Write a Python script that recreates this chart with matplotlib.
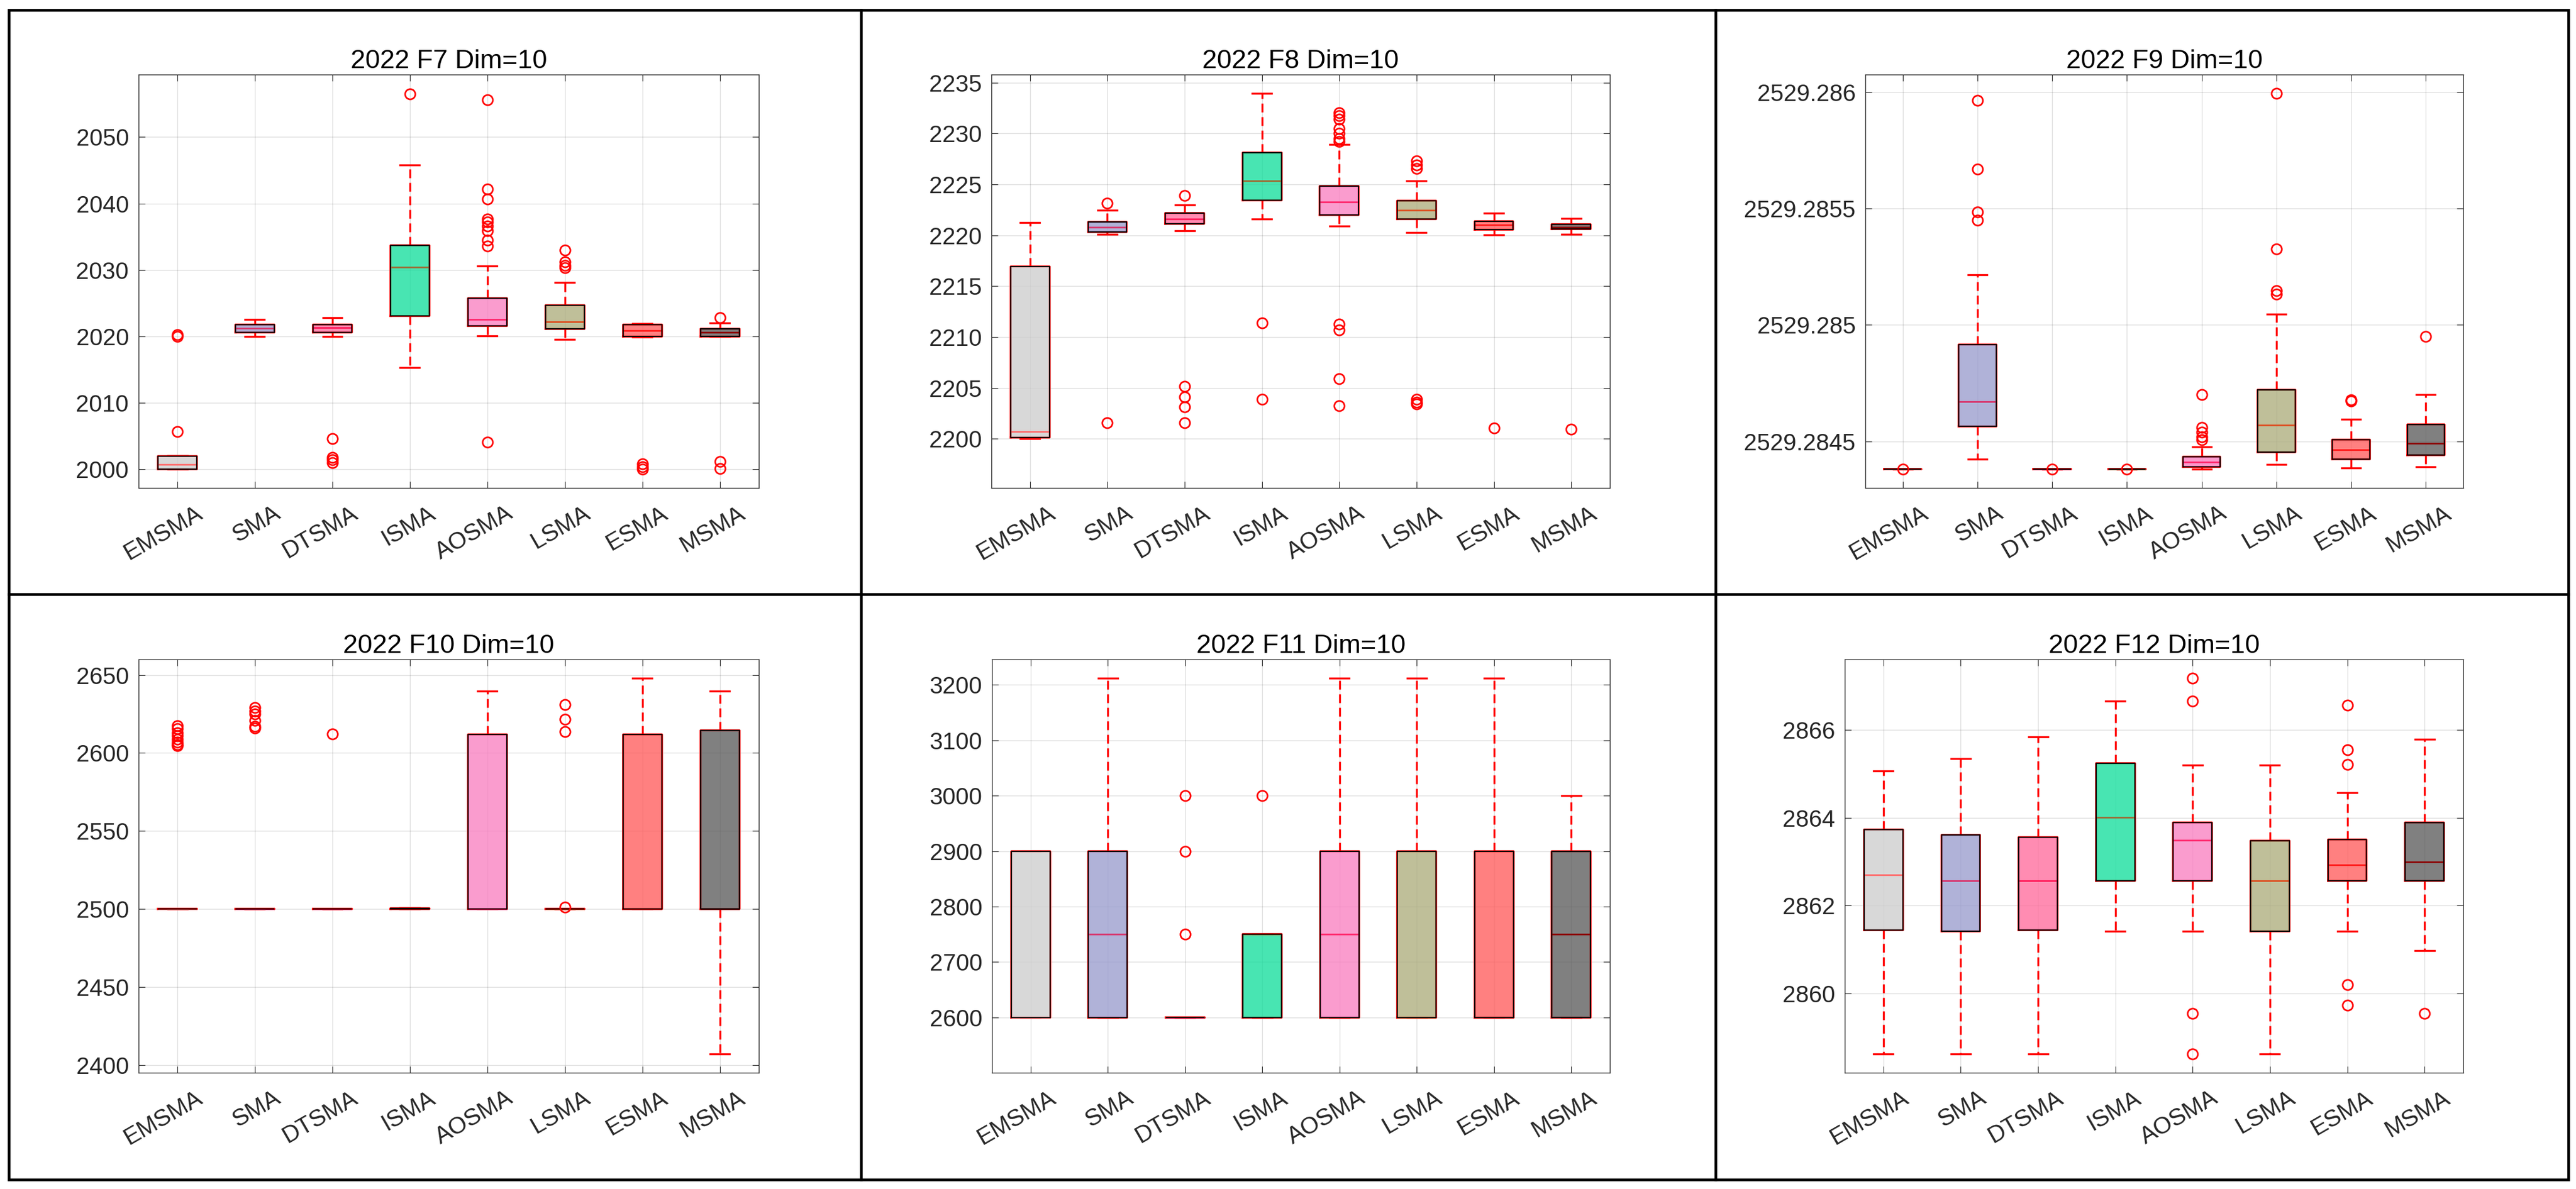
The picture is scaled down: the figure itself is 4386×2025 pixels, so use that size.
import numpy as np
import matplotlib
matplotlib.use('Agg')
import matplotlib.pyplot as plt
from matplotlib.lines import Line2D
from matplotlib.patches import Polygon, Rectangle
from matplotlib.transforms import ScaledTranslation
from matplotlib.ticker import FixedLocator, FuncFormatter

plt.rcParams['font.family'] = ['Liberation Sans', 'DejaVu Sans']

# ---------------- data ----------------
algorithms = ['EMSMA', 'SMA', 'DTSMA', 'ISMA', 'AOSMA', 'LSMA', 'ESMA', 'MSMA']
titles = ['2022 F7 Dim=10', '2022 F8 Dim=10', '2022 F9 Dim=10',
          '2022 F10 Dim=10', '2022 F11 Dim=10', '2022 F12 Dim=10']

# F7
f7_q1 = [2000.0, 2020.6, 2020.6, 2023.1, 2021.6, 2021.1, 2020.0, 2020.0]
f7_med = [2000.7, 2021.25, 2021.3, 2030.45, 2022.6, 2022.2, 2020.85, 2020.6]
f7_q3 = [2002.0, 2021.75, 2021.8, 2033.7, 2025.7, 2024.7, 2021.8, 2021.1]
f7_lo = [2000.0, 2020.0, 2020.0, 2015.3, 2020.05, 2019.55, 2019.9, 2020.0]
f7_hi = [2002.1, 2022.6, 2022.8, 2045.8, 2030.6, 2028.1, 2021.9, 2022.0]
f7_fliers = [[2020.3, 2020.0, 2005.7], [], [2004.6, 2001.8, 2001.4, 2001.0], [2056.5],
             [2055.6, 2042.2, 2040.7, 2037.7, 2037.2, 2036.6, 2035.9, 2034.5, 2033.6, 2004.1],
             [2033.0, 2031.2, 2030.7, 2030.3], [2000.8, 2000.4, 2000.0], [2022.8, 2001.2, 2000.1]]
f7_ylim = [1997.2, 2059.4]
f7_ticks = [2000, 2010, 2020, 2030, 2040, 2050]

# F8
f8_q1 = [2200.15, 2220.33, 2221.15, 2223.45, 2222.0, 2221.63, 2220.55, 2220.6]
f8_med = [2200.7, 2220.8, 2221.6, 2225.34, 2223.26, 2222.48, 2221.0, 2220.8]
f8_q3 = [2216.9, 2221.3, 2222.2, 2228.1, 2224.86, 2223.37, 2221.4, 2221.1]
f8_lo = [2200.0, 2220.1, 2220.44, 2221.6, 2220.9, 2220.25, 2220.07, 2220.1]
f8_hi = [2221.26, 2222.45, 2223.0, 2233.97, 2228.95, 2225.34, 2222.2, 2221.67]
f8_fliers = [[], [2223.15, 2201.56], [2223.93, 2205.13, 2204.1, 2203.16, 2201.56], [2211.4, 2203.86],
             [2232.07, 2231.77, 2231.4, 2230.47, 2230.0, 2229.5, 2229.2, 2211.3, 2210.7, 2205.9, 2203.27],
             [2227.3, 2226.94, 2226.57, 2203.9, 2203.6, 2203.4], [2201.08], [2200.93]]
f8_ylim = [2195.17, 2235.8]
f8_ticks = [2200, 2205, 2210, 2215, 2220, 2225, 2230, 2235]

# F9
f9_q1 = [2529.28438, 2529.284565, 2529.28438, 2529.28438, 2529.284391, 2529.284453, 2529.284424, 2529.284442]
f9_med = [2529.28438, 2529.28467, 2529.28438, 2529.28438, 2529.284411, 2529.28457, 2529.284464, 2529.284492]
f9_q3 = [2529.28438, 2529.284914, 2529.28438, 2529.28438, 2529.284433, 2529.284722, 2529.284506, 2529.284573]
f9_lo = [2529.28438, 2529.284424, 2529.28438, 2529.28438, 2529.284381, 2529.284401, 2529.284386, 2529.28439]
f9_hi = [2529.28438, 2529.285216, 2529.28438, 2529.28438, 2529.284477, 2529.285047, 2529.284596, 2529.284701]
f9_fliers = [[2529.28438], [2529.285964, 2529.28567, 2529.285485, 2529.28545], [2529.28438], [2529.28438],
             [2529.284701, 2529.28456, 2529.284539, 2529.28452, 2529.284506],
             [2529.285995, 2529.285325, 2529.285148, 2529.285131], [2529.284674, 2529.284678], [2529.284951]]
f9_ylim = [2529.2843, 2529.286075]
f9_ticks = [2529.2845, 2529.285, 2529.2855, 2529.286]

# F10
f10_q1 = [2500.0, 2500.0, 2500.0, 2500.1, 2500.0, 2500.0, 2500.0, 2500.0]
f10_med = [2500.0, 2500.0, 2500.0, 2500.3, 2500.0, 2500.0, 2500.0, 2500.0]
f10_q3 = [2500.0, 2500.0, 2500.0, 2500.5, 2612.0, 2500.0, 2611.8, 2614.4]
f10_lo = [2500.0, 2500.0, 2500.0, 2500.0, 2500.0, 2500.0, 2500.0, 2407.0]
f10_hi = [2500.0, 2500.0, 2500.0, 2500.7, 2639.5, 2500.0, 2647.8, 2639.5]
f10_fliers = [[2617.5, 2615.5, 2613.0, 2611.0, 2609.0, 2607.0, 2605.5, 2604.5],
              [2629.0, 2627.0, 2625.0, 2621.0, 2617.0, 2616.0], [2612.2], [], [],
              [2631.0, 2621.5, 2613.7, 2501.0], [], []]
f10_ylim = [2395.05, 2660.0]
f10_ticks = [2400, 2450, 2500, 2550, 2600, 2650]

# F11
f11_q1 = [2600, 2600, 2600, 2600, 2600, 2600, 2600, 2600]
f11_med = [2600, 2750, 2600, 2750, 2750, 2600, 2600, 2750]
f11_q3 = [2900, 2900, 2600, 2750, 2900, 2900, 2900, 2900]
f11_lo = [2600, 2600, 2600, 2600, 2600, 2600, 2600, 2600]
f11_hi = [2900, 3212, 2600, 2750, 3212, 3212, 3212, 3000]
f11_fliers = [[], [], [3000, 2900, 2750], [3000], [], [], [], []]
f11_ylim = [2500, 3246]
f11_ticks = [2600, 2700, 2800, 2900, 3000, 3100, 3200]

# F12
f12_q1 = [2861.44, 2861.42, 2861.44, 2862.56, 2862.56, 2861.42, 2862.56, 2862.56]
f12_med = [2862.70, 2862.56, 2862.56, 2864.01, 2863.49, 2862.56, 2862.93, 2863.00]
f12_q3 = [2863.73, 2863.61, 2863.56, 2865.23, 2863.89, 2863.47, 2863.50, 2863.89]
f12_lo = [2858.63, 2858.63, 2858.63, 2861.42, 2861.42, 2858.63, 2861.42, 2860.98]
f12_hi = [2865.06, 2865.34, 2865.84, 2866.65, 2865.20, 2865.20, 2864.57, 2865.79]
f12_fliers = [[], [], [], [], [2867.17, 2866.65, 2859.55, 2858.63], [],
              [2866.56, 2865.54, 2865.21, 2860.20, 2859.73], [2859.55]]
f12_ylim = [2858.2, 2867.6]
f12_ticks = [2860, 2862, 2864, 2866]

# ---------------- styles ----------------
fill_colors = [(0.85, 0.85, 0.85), (0.69, 0.70, 0.85), (1.0, 0.55, 0.70), (0.28, 0.90, 0.70),
               (0.98, 0.61, 0.81), (0.75, 0.75, 0.60), (1.0, 0.50, 0.50), (0.50, 0.50, 0.50)]
median_colors = [(1.0, 0.42, 0.42), (0.85, 0.2, 0.42), (1.0, 0.1, 0.35), (0.62, 0.42, 0.2),
                 (1.0, 0.15, 0.42), (0.87, 0.3, 0.12), (1.0, 0.1, 0.1), (0.55, 0.0, 0.0)]
FILL_ALPHA = 0.8
DARK = (0.15, 0.15, 0.15)

W, H = 4386, 2025
fig = plt.figure(figsize=(W / 100, H / 100), dpi=100)

# axes rectangles in pixel units (left, right, top, bottom)
axes_px = [(236, 1292, 127, 831), (1688, 2741, 127, 831), (3176, 4194, 127, 831),
           (236, 1292, 1123, 1827), (1689, 2741, 1123, 1827), (3141, 4194, 1123, 1827)]

panels = [
    (f7_q1, f7_med, f7_q3, f7_lo, f7_hi, f7_fliers, f7_ylim, f7_ticks),
    (f8_q1, f8_med, f8_q3, f8_lo, f8_hi, f8_fliers, f8_ylim, f8_ticks),
    (f9_q1, f9_med, f9_q3, f9_lo, f9_hi, f9_fliers, f9_ylim, f9_ticks),
    (f10_q1, f10_med, f10_q3, f10_lo, f10_hi, f10_fliers, f10_ylim, f10_ticks),
    (f11_q1, f11_med, f11_q3, f11_lo, f11_hi, f11_fliers, f11_ylim, f11_ticks),
    (f12_q1, f12_med, f12_q3, f12_lo, f12_hi, f12_fliers, f12_ylim, f12_ticks),
]

fmt = FuncFormatter(lambda v, p: ('%.4f' % v).rstrip('0').rstrip('.'))
positions = np.arange(1, len(algorithms) + 1)

for k, (q1, med, q3, lo, hi, fl, ylim, ticks) in enumerate(panels):
    l, r, t, b = axes_px[k]
    ax = fig.add_axes([l / W, 1 - b / H, (r - l) / W, (b - t) / H])
    stats = []
    for i in range(len(algorithms)):
        stats.append(dict(q1=q1[i], med=med[i], q3=q3[i], whislo=lo[i], whishi=hi[i],
                          fliers=np.array(fl[i], dtype=float), label=algorithms[i]))
    bp = ax.bxp(stats, positions=positions, widths=0.5, capwidths=0.25,
                showfliers=True, manage_ticks=False, patch_artist=False,
                boxprops=dict(color='red', linewidth=2.6),
                whiskerprops=dict(color='red', linewidth=2.4, linestyle=(0, (4.5, 2.4))),
                capprops=dict(color='red', linewidth=2.4),
                medianprops=dict(color='red', linewidth=2.0),
                flierprops=dict(marker='o', markerfacecolor='none', markeredgecolor='red',
                                markersize=12.5, markeredgewidth=2.0, linestyle='none'))
    for i, box in enumerate(bp['boxes']):
        xy = box.get_xydata()
        fc = tuple(np.clip((np.array(fill_colors[i]) - (1 - FILL_ALPHA)) / FILL_ALPHA, 0, 1))
        ax.add_patch(Polygon(xy, closed=True, facecolor=fc, alpha=FILL_ALPHA,
                             edgecolor='none', zorder=2.1))
        ax.add_patch(Polygon(xy, closed=True, facecolor='none', edgecolor='black',
                             linewidth=1.4, zorder=2.3))
        bp['medians'][i].set_color(median_colors[i])
        bp['medians'][i].set_zorder(2.2)
    for f in bp['fliers']:
        f.set_zorder(2.4)

    ax.set_xlim(0.5, len(algorithms) + 0.5)
    ax.set_ylim(ylim)
    ax.yaxis.set_major_locator(FixedLocator(ticks))
    ax.yaxis.set_major_formatter(fmt)
    ax.set_xticks(positions, labels=algorithms, rotation=30, ha='right', va='top',
                  rotation_mode='anchor')
    ax.set_axisbelow(True)
    ax.grid(True, color=DARK, alpha=0.15, linewidth=1.0)
    ax.tick_params(axis='both', which='major', direction='in', length=8, width=0.8,
                   color=DARK, top=True, right=True, labelsize=29, labelcolor=DARK)
    ax.tick_params(axis='y', pad=12)
    ax.tick_params(axis='x', pad=17)
    for tk in ax.xaxis.get_major_ticks():
        tk.label1.set_transform(tk.label1.get_transform() +
                                ScaledTranslation(22 / 72, 0, fig.dpi_scale_trans))
    for sp in ax.spines.values():
        sp.set_color(DARK)
        sp.set_linewidth(1.0)
    ax.set_title(titles[k], fontsize=32.5, color='black', pad=8)

# ---------------- panel borders ----------------
def fx(px):
    return px / W


def fy(py):
    return 1 - py / H


border_lw = 3.3
fig.add_artist(Rectangle((fx(15), fy(2009)), fx(4373) - fx(15), fy(17) - fy(2009),
                         transform=fig.transFigure, fill=False, edgecolor='black',
                         linewidth=border_lw, joinstyle='miter'))
for xv in (1466, 2921):
    fig.add_artist(Line2D([fx(xv), fx(xv)], [fy(17), fy(2009)], transform=fig.transFigure,
                          color='black', linewidth=border_lw))
fig.add_artist(Line2D([fx(15), fx(4373)], [fy(1012), fy(1012)], transform=fig.transFigure,
                      color='black', linewidth=border_lw))

fig.savefig('out.png', dpi=100)
